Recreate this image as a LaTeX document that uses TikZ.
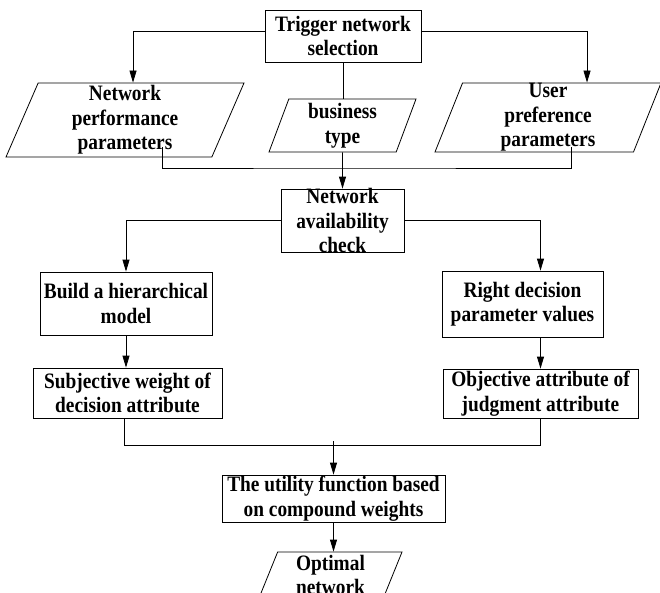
\documentclass[tikz,border=0pt]{standalone}
\usepackage{fontspec}
\setmainfont{Liberation Serif}[FakeStretch=0.88]
\usetikzlibrary{shapes.geometric,arrows.meta}

\tikzset{
    every node/.style={font=\bfseries\fontsize{22}{24.5}\selectfont, align=center, inner sep=0pt},
    proc/.style={draw, line width=0.8pt},
    data/.style={draw, line width=0.8pt, trapezium, trapezium stretches body,
        trapezium left angle=#1, trapezium right angle=180-#1},
    arr/.style={-{Triangle[length=12pt,width=7pt]}},
}

\begin{document}
\begin{tikzpicture}[x=1pt,y=-1pt,line width=0.8pt]
        \useasboundingbox (0,0) rectangle (660,592);
        \clip (0,0) rectangle (660,592);
        \node[proc,minimum width=156pt,minimum height=52pt] (trigger) at (343,36) {Trigger network\\selection};
        \node[data=65,minimum width=238pt,minimum height=74pt] (perf) at (125,120) {Network\\performance\\parameters};
        \node[data=66,minimum width=147pt,minimum height=53pt] (bus) at (342.5,125.5) {business\\type};
        \node[data=68,minimum width=226pt,minimum height=69pt] (pref) at (548,117.5) {User\\preference\\parameters};
        \node[proc,minimum width=123pt,minimum height=63pt,inner ysep=-3pt] (avail) at (342.5,220.5) {Network\\availability\\check};
        \node[proc,minimum width=172pt,minimum height=63pt] (build) at (126,303.5) {Build a hierarchical\\model};
        \node[proc,minimum width=161pt,minimum height=66pt] (right) at (522.5,304) {Right decision\\parameter values};
        \node[proc,minimum width=189pt,minimum height=50pt] (subj) at (127.5,393) {Subjective weight of\\decision attribute};
        \node[proc,minimum width=195pt,minimum height=49pt] (obj) at (540.5,393.5) {Objective attribute of\\judgment attribute};
        \node[proc,minimum width=223pt,minimum height=47pt] (util) at (333.5,498.5) {The utility function based\\on compound weights};
        \node[data=65,minimum width=143pt,minimum height=46pt] (opt) at (330.5,575) {Optimal\\network};
        \coordinate (join1) at (342.5,168);
        \coordinate (join2) at (333.5,445);
        % first level
        \draw[arr] ([yshift=5pt]trigger.west) -| ([xshift=8pt]perf.north);
        \draw[arr] ([yshift=5pt]trigger.east) -| ([xshift=39pt]pref.north);
        \draw (trigger.south) -- (trigger.south |- bus.north);
        \draw ([xshift=37pt,yshift=10pt]perf.south) |- (join1) -| ([xshift=23pt,yshift=5pt]pref.south);
        \draw[arr] (bus.south) -- (avail.north);
        % two branches
        \draw[arr] (avail.west) -| (build.north);
        \draw[arr] (avail.east) -| (right.north -| obj.north);
        \draw[arr] (build.south) -- (build.south |- subj.north);
        \draw[arr] (right.south -| obj.north) -- (obj.north);
        \draw ([xshift=-3pt]subj.south) |- (join2) -| (obj.south);
        \draw[arr] ([yshift=4pt]join2) -- (util.north);
        \draw[arr] (util.south) -- (util.south |- opt.north);
    \end{tikzpicture}
\end{document}
